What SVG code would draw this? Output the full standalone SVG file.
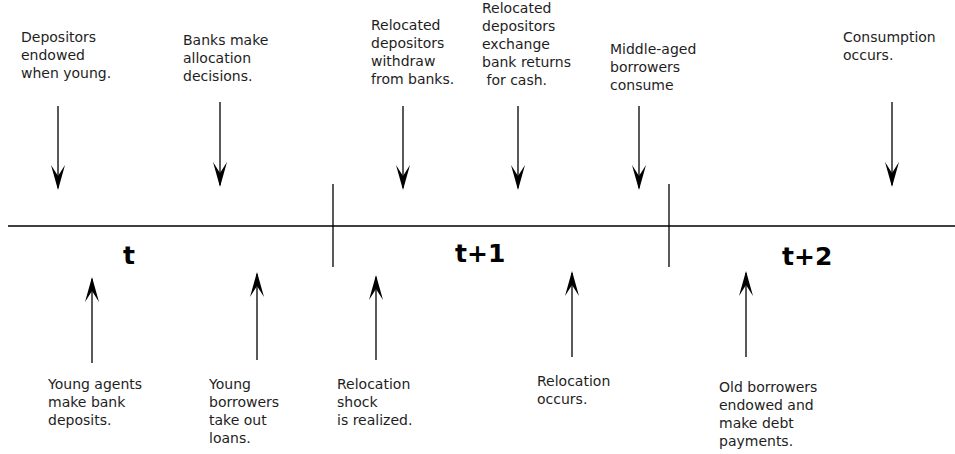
<svg xmlns="http://www.w3.org/2000/svg" width="955" height="454" viewBox="0 0 955 454">
<style>
  .lbl { font-family: "DejaVu Sans", sans-serif; font-size: 14px; fill: #1e1e1e; }
  .per { font-family: "DejaVu Sans", sans-serif; font-size: 25px; font-weight: bold; fill: #000; }
  .ln { stroke: #000; stroke-width: 1.3; fill: none; }
</style>
<defs>
  <marker id="ah" markerUnits="userSpaceOnUse" viewBox="-24 -8 27 16" refX="0" refY="0" markerWidth="27" markerHeight="16" orient="auto">
    <path d="M2,0 L-23,-7 L-12,0 L-23,7 Z" fill="#000"/>
  </marker>
</defs>
<rect width="955" height="454" fill="#fff"/>
<g id="timeline">
  <line class="ln" x1="8" y1="226" x2="955" y2="226"/>
  <line class="ln" x1="333" y1="184" x2="333" y2="267"/>
  <line class="ln" x1="669" y1="184" x2="669" y2="267"/>
  <text class="per" x="123" y="264">t</text>
  <text class="per" x="455" y="262">t+1</text>
  <text class="per" x="782" y="265">t+2</text>
</g>
<g id="connectors">
  <line class="ln" x1="58" y1="106" x2="58" y2="188" marker-end="url(#ah)"/>
  <line class="ln" x1="220" y1="102" x2="220" y2="185" marker-end="url(#ah)"/>
  <line class="ln" x1="403" y1="106" x2="403" y2="188" marker-end="url(#ah)"/>
  <line class="ln" x1="518" y1="106" x2="518" y2="188" marker-end="url(#ah)"/>
  <line class="ln" x1="639" y1="106" x2="639" y2="188" marker-end="url(#ah)"/>
  <line class="ln" x1="892" y1="102" x2="892" y2="185" marker-end="url(#ah)"/>
  <line class="ln" x1="92" y1="363" x2="92" y2="279" marker-end="url(#ah)"/>
  <line class="ln" x1="257" y1="360" x2="257" y2="274" marker-end="url(#ah)"/>
  <line class="ln" x1="376" y1="360" x2="376" y2="277" marker-end="url(#ah)"/>
  <line class="ln" x1="572" y1="357" x2="572" y2="273" marker-end="url(#ah)"/>
  <line class="ln" x1="746" y1="357" x2="746" y2="273" marker-end="url(#ah)"/>
</g>
<g id="n-depositors-endowed">
  <text class="lbl" x="21" y="42">Depositors</text>
  <text class="lbl" x="21" y="60">endowed</text>
  <text class="lbl" x="21" y="78">when young.</text>
</g>
<g id="n-banks-allocate">
  <text class="lbl" x="183" y="45">Banks make</text>
  <text class="lbl" x="183" y="63">allocation</text>
  <text class="lbl" x="183" y="81">decisions.</text>
</g>
<g id="n-relocated-withdraw">
  <text class="lbl" x="371" y="30">Relocated</text>
  <text class="lbl" x="371" y="48">depositors</text>
  <text class="lbl" x="371" y="66">withdraw</text>
  <text class="lbl" x="371" y="84">from banks.</text>
</g>
<g id="n-relocated-exchange">
  <text class="lbl" x="482" y="13">Relocated</text>
  <text class="lbl" x="482" y="31">depositors</text>
  <text class="lbl" x="482" y="49">exchange</text>
  <text class="lbl" x="482" y="67">bank returns</text>
  <text class="lbl" x="482" y="85" xml:space="preserve"> for cash.</text>
</g>
<g id="n-middle-aged">
  <text class="lbl" x="610" y="54">Middle-aged</text>
  <text class="lbl" x="610" y="72">borrowers</text>
  <text class="lbl" x="610" y="90">consume</text>
</g>
<g id="n-consumption">
  <text class="lbl" x="843" y="42">Consumption</text>
  <text class="lbl" x="843" y="60">occurs.</text>
</g>
<g id="n-young-deposits">
  <text class="lbl" x="48" y="389">Young agents</text>
  <text class="lbl" x="48" y="407">make bank</text>
  <text class="lbl" x="48" y="425">deposits.</text>
</g>
<g id="n-young-borrowers">
  <text class="lbl" x="209" y="389">Young</text>
  <text class="lbl" x="209" y="407">borrowers</text>
  <text class="lbl" x="209" y="425">take out</text>
  <text class="lbl" x="209" y="443">loans.</text>
</g>
<g id="n-relocation-shock">
  <text class="lbl" x="337" y="389">Relocation</text>
  <text class="lbl" x="337" y="407">shock</text>
  <text class="lbl" x="337" y="425">is realized.</text>
</g>
<g id="n-relocation-occurs">
  <text class="lbl" x="537" y="386">Relocation</text>
  <text class="lbl" x="537" y="404">occurs.</text>
</g>
<g id="n-old-borrowers">
  <text class="lbl" x="719" y="392">Old borrowers</text>
  <text class="lbl" x="719" y="410">endowed and</text>
  <text class="lbl" x="719" y="428">make debt</text>
  <text class="lbl" x="719" y="446">payments.</text>
</g>
</svg>
